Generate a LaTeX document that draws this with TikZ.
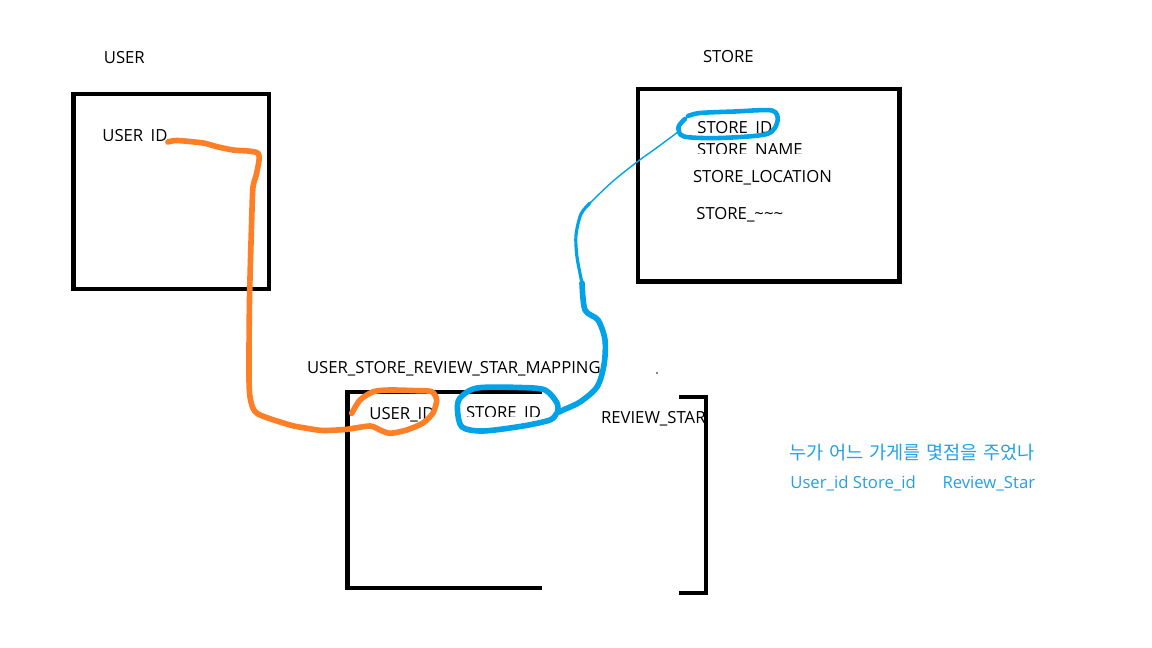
\documentclass[tikz,border=0pt]{standalone}
\usepackage{fontspec}
\setmainfont{Open Sans}
\newfontfamily\kofont{Noto Sans CJK KR}
\usetikzlibrary{positioning}
\definecolor{paintorange}{RGB}{255,127,39}
\definecolor{paintblue}{RGB}{0,162,232}
\definecolor{notecyan}{RGB}{36,160,232}
\tikzset{
	tablebox/.style={draw=black, line width=2.6pt, line join=miter},
	fieldtext/.style={anchor=base west, inner sep=0pt, font=\fontsize{9.5}{11}\selectfont, text=black},
	notetext/.style={anchor=base west, inner sep=0pt, font=\fontsize{9.5}{11}\selectfont, text=notecyan},
	orangepen/.style={draw=paintorange, line width=3.2pt, line cap=round, line join=round},
	bluepen/.style={draw=paintblue, line width=3.2pt, line cap=round, line join=round},
	thinpen/.style={draw=paintblue, line width=0.8pt, line cap=round}
}
\begin{document}
\begin{tikzpicture}[x=0.02cm,y=-0.02cm]
	\fill[white] (0,0) rectangle (1152,648);
	\useasboundingbox (0,0) rectangle (1152,648);
	
	% USER
	\node[fieldtext] (usertitle) at (103.5,64) {USER};
	\draw[tablebox] (73.5,93.8) rectangle (269,289);
	\begin{scope}
		\clip (0,0) rectangle (1152,140.3);
		\node[fieldtext] (userid) at (102,142) {USER\_ID};
	\end{scope}
	
	% STORE
	\node[fieldtext] (storetitle) at (702.7,62.7) {STORE};
	\draw[tablebox] (637.8,89) rectangle (899.5,281.7);
	\node[fieldtext] (storeid) at (697,134) {STORE\_ID};
	\begin{scope}
		\clip (0,0) rectangle (1152,153.5);
		\node[fieldtext] (storename) at (696.7,155.3) {STORE\_NAME};
	\end{scope}
	\node[fieldtext] (storeloc) at (692.7,182.7) {STORE\_LOCATION};
	\node[fieldtext] (storeetc) at (696,220) {STORE\_\textasciitilde\textasciitilde\textasciitilde};
	
	% mapping table
	\node[fieldtext] (maptitle) at (306.7,373.3) {USER\_STORE\_REVIEW\_STAR\_MAPPING};
	\fill[black!70!blue] (657,373) circle (0.9);
	\draw[tablebox] (541.7,392) -- (347.5,392) -- (347.5,588) -- (541.7,588);
	\draw[tablebox] (679.3,397) -- (706,397) -- (706,593) -- (679.3,593);
	\node[fieldtext] (mapuid) at (369,419) {USER\_ID};
	\begin{scope}
		\clip (0,0) rectangle (1152,416);
		\node[fieldtext] (mapsid) at (465.7,418.7) {STORE\_ID};
	\end{scope}
	\node[fieldtext] (mapstar) at (600.7,423.3) {REVIEW\_STAR};
	
	% note
	\node[notetext, font=\fontsize{10.6}{12}\selectfont] (notekr) at (789,459.5) {\kofont 누가\hspace{0.3em}어느\hspace{0.3em}가게를\hspace{0.3em}몇점을\hspace{0.3em}주었나};
	\node[notetext] (notecols) at (790,488.3) {User\_id Store\_id\hspace{1.6em}Review\_Star};
	
	% user id link
	\coordinate (uidloop) at (351.7,413.3);
	\draw[orangepen] plot[smooth, tension=0.45] coordinates {(userid.base east) (177,140.5) (203,143) (217,146.7) (233,150) (258,153.3)
		(256.7,173) (253,187) (251.7,220) (249.5,300) (249,380) (251,402) (258,414) (290,425) (307,428.3) (323,430.5)
		(346.7,429.3) (370,426) (380,430) (390,433.3) (406.7,430) (423,423) (433,413) (436.7,400) (431.7,391.7)
		(416.7,390.7) (390,390) (373.3,391.7) (360,400) (uidloop)};
	
	% store id link
	\coordinate (sidtail) at (678,132);
	\coordinate (sidbend) at (590,203);
	\coordinate (sidloop) at (558,412);
	\draw[bluepen, line width=2.6pt] plot[smooth, tension=0.5] coordinates {(688,116) (700,113) (735,111.5) (772,110.5)
		(777.5,121) (767,134) (720,138) (684,136.5) (678.5,127) (685,119)};
	\draw[thinpen] plot[smooth, tension=0.5] coordinates {(sidtail) (655,149) (637,162) (612,182) (sidbend)};
	\draw[bluepen, line width=1.8pt] plot[smooth, tension=0.5] coordinates {(sidbend) (581,214) (576,235) (577,257) (582,283)};
	\draw[bluepen] plot[smooth, tension=0.5] coordinates {(582,283) (585,310) (598,320) (605,340) (604,365) (597,387)
		(580,402) (563,410) (sidloop) (557,403) (545,390) (520,387.5) (477,388) (460,398) (457.5,410) (462,427)
		(483,431) (523,426) (550,420) (556,414)};
\end{tikzpicture}
\end{document}
